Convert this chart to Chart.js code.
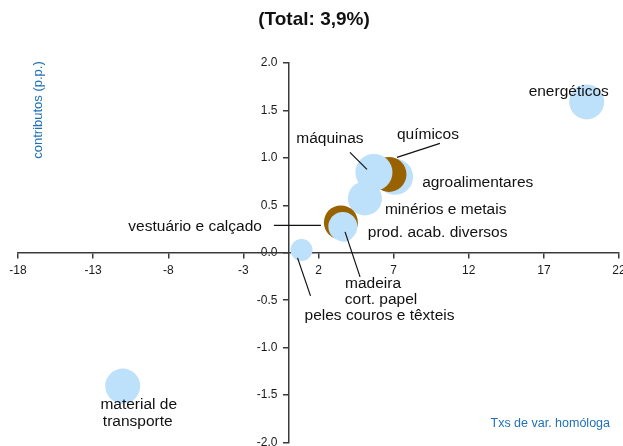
<!DOCTYPE html>
<html>
<head>
<meta charset="utf-8">
<script src="https://cdn.jsdelivr.net/npm/chart.js@4.4.1/dist/chart.umd.min.js"></script>
<style>
  html, body { margin: 0; padding: 0; background: #fff; overflow: hidden; }
  canvas { display: block; }
</style>
</head>
<body>
<canvas id="c" width="623" height="446"></canvas>
<script>
// Export groups, drawn back to front
const categories = [
  'energéticos',
  'material de transporte',
  'agroalimentares',
  'químicos',
  'minérios e metais',
  'máquinas',
  'vestuário e calçado',
  'madeira cort. papel',
  'prod. acab. diversos',
  'peles couros e têxteis'
];
// year-on-year growth rate (%)
const growth = [19.85, -11.03, 7.10, 6.69, 5.09, 5.69, 3.49, 3.70, 3.62, 0.87];
// contribution to total growth (p.p.)
const contributions = [1.59, -1.405, 0.80, 0.826, 0.573, 0.847, 0.32, 0.22, 0.277, 0.03];
// bubble size
const weights = [17.5, 17.5, 18, 17.5, 17, 18.5, 17, 10, 14.5, 11];

const xTickValues = [-18, -13, -8, -3, 2, 7, 12, 17, 22];
const xTickLabels = ['-18', '-13', '-8', '-3', '2', '7', '12', '17', '22'];
const yTickValues = [2.0, 1.5, 1.0, 0.5, 0.0, -0.5, -1.0, -1.5, -2.0];
const yTickLabels = ['2.0', '1.5', '1.0', '0.5', '0.0', '-0.5', '-1.0', '-1.5', '-2.0'];

const titleText = '(Total: 3,9%)';
const yTitle = 'contributos (p.p.)';
const xTitle = 'Txs de var. homóloga';

const FONT = '"Liberation Sans", Arial, sans-serif';
const LIGHT = 'rgb(189,224,251)';
const BROWN = 'rgb(153,98,0)';
const BLUE_TEXT = 'rgb(31,112,183)';
const AXIS = '#3a3a3a';
const highlighted = new Set(['químicos', 'vestuário e calçado']);

// label placement relative to each bubble centre (px)
const labelLayout = {
  'energéticos':            { lines: [['energéticos', -18, -10, 'center']] },
  'material de transporte': { lines: [['material de', 16, 19, 'center'], ['transporte', 15, 36, 'center']] },
  'agroalimentares':        { lines: [['agroalimentares', 27, 6, 'left']] },
  'químicos':               { lines: [['químicos', 39, -40, 'center']], leader: [8, -17, 51, -31] },
  'minérios e metais':      { lines: [['minérios e metais', 20, 11, 'left']] },
  'máquinas':               { lines: [['máquinas', -44, -34, 'center']], leader: [-24, -20, -7, -3] },
  'vestuário e calçado':    { lines: [['vestuário e calçado', -79, 4, 'right']], leader: [-67, 3, -20, 3] },
  'madeira cort. papel':    { lines: [['madeira', 29, 52, 'center'], ['cort. papel', 37, 68, 'center']], leader: [1, 0, 16, 45] },
  'prod. acab. diversos':   { lines: [['prod. acab. diversos', 25, 6, 'left']] },
  'peles couros e têxteis': { lines: [['peles couros e têxteis', 78, 66, 'center']], leader: [-4, 8, 9, 46] }
};

const points = categories.map((c, i) => ({ x: growth[i], y: contributions[i], r: weights[i] }));

const annotations = {
  id: 'annotations',
  // tick labels go underneath the axis lines
  beforeDraw(chart) {
    const { ctx, scales: { x, y } } = chart;
    const x0 = x.getPixelForValue(0);
    const y0 = y.getPixelForValue(0);
    ctx.save();
    ctx.fillStyle = '#1a1a1a';
    ctx.font = '12px ' + FONT;
    ctx.textBaseline = 'middle';
    ctx.textAlign = 'center';
    xTickValues.forEach((v, i) => ctx.fillText(xTickLabels[i], x.getPixelForValue(v), y0 + 18));
    ctx.textAlign = 'right';
    yTickValues.forEach((v, i) => ctx.fillText(yTickLabels[i], x0 - 11, y.getPixelForValue(v)));
    ctx.restore();
  },
  afterDatasetsDraw(chart) {
    const { ctx, scales: { x, y } } = chart;
    ctx.save();
    categories.forEach((name, i) => {
      const cfg = labelLayout[name];
      if (!cfg) return;
      const px = x.getPixelForValue(growth[i]);
      const py = y.getPixelForValue(contributions[i]);
      if (cfg.leader) {
        const [x1, y1, x2, y2] = cfg.leader;
        ctx.strokeStyle = '#111';
        ctx.lineWidth = 1.2;
        ctx.beginPath();
        ctx.moveTo(px + x1, py + y1);
        ctx.lineTo(px + x2, py + y2);
        ctx.stroke();
      }
      ctx.fillStyle = '#111';
      ctx.font = '15.5px ' + FONT;
      ctx.textBaseline = 'middle';
      cfg.lines.forEach(([txt, dx, dy, align]) => {
        ctx.textAlign = align;
        ctx.fillText(txt, px + dx, py + dy);
      });
    });
    ctx.restore();
  },
  afterDraw(chart) {
    const { ctx } = chart;
    ctx.save();
    ctx.fillStyle = '#111';
    ctx.font = 'bold 19px ' + FONT;
    ctx.textAlign = 'center';
    ctx.textBaseline = 'middle';
    ctx.fillText(titleText, 314, 20);

    ctx.fillStyle = BLUE_TEXT;
    ctx.font = '12.5px ' + FONT;
    ctx.textAlign = 'right';
    ctx.fillText(xTitle, 610, 424);

    ctx.font = '13px ' + FONT;
    ctx.translate(38, 110);
    ctx.rotate(-Math.PI / 2);
    ctx.textAlign = 'center';
    ctx.fillText(yTitle, 0, 0);
    ctx.restore();
  }
};

const zeroPad = s => { s.paddingLeft = 0; s.paddingRight = 0; s.paddingTop = 0; s.paddingBottom = 0; };

new Chart(document.getElementById('c'), {
  type: 'bubble',
  data: {
    datasets: [{
      data: points,
      backgroundColor: categories.map(c => highlighted.has(c) ? BROWN : LIGHT),
      borderWidth: 0,
      hoverBorderWidth: 0
    }]
  },
  options: {
    responsive: false,
    animation: false,
    events: [],
    layout: { autoPadding: false, padding: { left: 18, right: 4, top: 63, bottom: 3.5 } },
    plugins: { legend: { display: false }, tooltip: { enabled: false }, title: { display: false } },
    scales: {
      x: {
        type: 'linear',
        min: -18, max: 22,
        position: { y: 0 },
        afterBuildTicks: s => { s.ticks = xTickValues.map(v => ({ value: v })); },
        afterFit: zeroPad,
        ticks: { display: false },
        grid: { drawOnChartArea: false, drawTicks: true, tickLength: 5, color: AXIS, lineWidth: 1.5 },
        border: { display: true, color: AXIS, width: 1.5 }
      },
      y: {
        type: 'linear',
        min: -2, max: 2,
        position: { x: 0 },
        afterBuildTicks: s => { s.ticks = yTickValues.map(v => ({ value: v })); },
        afterFit: zeroPad,
        ticks: { display: false },
        grid: { drawOnChartArea: false, drawTicks: true, tickLength: 5, color: AXIS, lineWidth: 1.5 },
        border: { display: true, color: AXIS, width: 1.5 }
      }
    }
  },
  plugins: [annotations]
});
</script>
</body>
</html>
